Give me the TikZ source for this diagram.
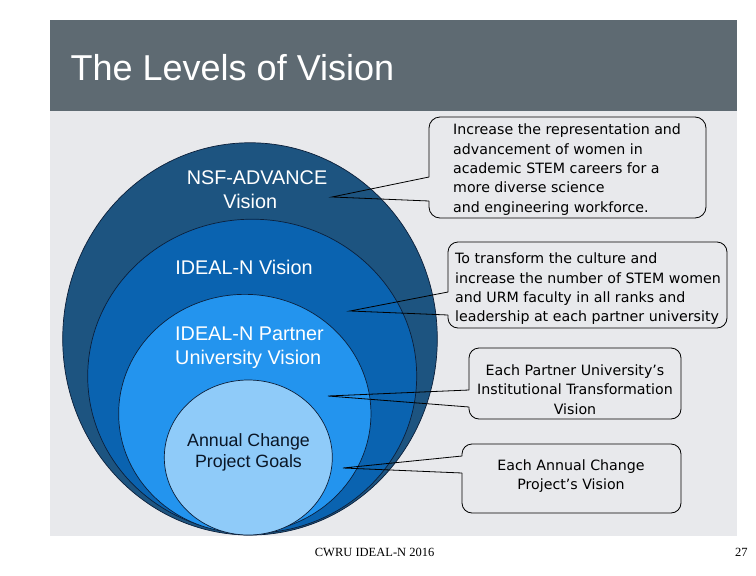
\documentclass[tikz,border=0pt]{standalone}
\usepackage{fontspec}
\setmainfont{Liberation Sans}
\newfontfamily\tahfont{DejaVu Sans}
\newfontfamily\serfont{Liberation Serif}
\usetikzlibrary{shapes.geometric}
\definecolor{barcol}{HTML}{5E6A72}
\definecolor{bgcol}{HTML}{E8E9EC}
\definecolor{ringA}{HTML}{1D5480}
\definecolor{ringB}{HTML}{0A63B0}
\definecolor{ringC}{HTML}{2394EE}
\definecolor{ringD}{HTML}{8FCBF9}
\definecolor{ringline}{HTML}{0B1F3A}
\definecolor{darktext}{HTML}{0A1626}
\begin{document}
\begin{tikzpicture}[x=1pt,y=-1pt,
  ring/.style={ellipse, draw=ringline, line width=0.7pt, inner sep=0pt, outer sep=0pt},
  ringlabel/.style={text=white, font=\fontsize{19.8}{24}\selectfont, inner sep=0pt},
  boxshape/.style={rectangle, inner sep=0pt, outer sep=0pt},
  coline/.style={draw=black, line width=0.8pt},
  cotext/.style={font=\tahfont\fontsize{14.2}{19.3}\selectfont, text=black, inner sep=0pt}]
\useasboundingbox (0,0) rectangle (756,576);
\fill[white] (0,0) rectangle (756,576);
% title bar and content area
\fill[barcol] (49.5,19.5) rectangle (736.7,111);
\fill[bgcol] (50,111) rectangle (736.7,536);
\node[anchor=base west, text=white, font=\fontsize{36}{43}\selectfont, inner sep=0pt] (title) at (70.5,80) {The Levels of Vision};

% nested circles
\node[ring, fill=ringA, minimum width=374.6pt, minimum height=392.3pt] (r1) at (250,338.9) {};
\node[ring, fill=ringB, minimum width=329pt, minimum height=314pt] (r2) at (252.2,376.2) {};
\node[ring, fill=ringC, minimum width=252.3pt, minimum height=238.7pt] (r3) at (244.8,413.7) {};
\node[ring, fill=ringD, minimum width=168pt, minimum height=155pt] (r4) at (248.3,457.5) {};

% circle labels
\node[ringlabel, align=left] (l1) at (257,190) {NSF-ADVANCE\\\hspace*{36.7pt}Vision};
\node[ringlabel] (l2) at (244,267) {IDEAL-N Vision};
\node[ringlabel, align=left] (l3) at (249.5,348) {IDEAL-N Partner\\University Vision};
\node[text=darktext, font=\fontsize{17.8}{21}\selectfont, align=center, inner sep=0pt] (l4) at (248.5,452.5) {Annual Change\\Project Goals};

% callout 1
\node[boxshape, minimum width=277pt, minimum height=101pt] (c1) at (567.5,167.5) {};
\coordinate (c1u) at (429,177);
\coordinate (c1l) at (429,201);
\coordinate (t1) at (332,197);
\draw[coline, rounded corners=11pt] (c1u) -- (c1.north west) -- (c1.north east) -- (c1.south east) -- (c1.south west) -- (c1l);
\draw[coline] (c1u) -- (t1) -- (c1l);
\node[cotext, align=left, anchor=west] (x1) at (453,169.5) {Increase the representation and\\advancement of women in\\academic STEM careers for a\\more diverse science\\and engineering workforce.};

% callout 2
\node[boxshape, minimum width=279pt, minimum height=86pt] (c2) at (587.5,285) {};
\coordinate (c2u) at (448,292);
\coordinate (c2l) at (448,315);
\coordinate (t2) at (350,311);
\draw[coline, rounded corners=10pt] (c2u) -- (c2.north west) -- (c2.north east) -- (c2.south east) -- (c2.south west) -- (c2l);
\draw[coline] (c2u) -- (t2) -- (c2l);
\node[cotext, align=left, anchor=west] (x2) at (455,289) {To transform the culture and\\increase the number of STEM women\\and URM faculty in all ranks and\\leadership at each partner university};

% callout 3
\node[boxshape, minimum width=212pt, minimum height=71pt] (c3) at (575,383.5) {};
\coordinate (c3u) at (469,390);
\coordinate (c3l) at (469,407);
\coordinate (t3) at (328,396);
\draw[coline, rounded corners=10pt] (c3u) -- (c3.north west) -- (c3.north east) -- (c3.south east) -- (c3.south west) -- (c3l);
\draw[coline] (c3u) -- (t3) -- (c3l);
\node[cotext, align=center] (x3) at (575,389.7) {Each Partner University’s\\Institutional Transformation\\Vision};

% callout 4
\node[boxshape, minimum width=219pt, minimum height=69pt] (c4) at (571.5,478.5) {};
\coordinate (c4u) at (462,456);
\coordinate (c4l) at (462,473);
\coordinate (t4) at (343,468);
\draw[coline, rounded corners=10pt] (c4u) -- (c4.north west) -- (c4.north east) -- (c4.south east) -- (c4.south west) -- (c4l);
\draw[coline] (c4u) -- (t4) -- (c4l);
\node[cotext, align=center] (x4) at (571,476.2) {Each Annual Change\\Project’s Vision};

% footer
\node[anchor=base west, font=\serfont\fontsize{12.5}{15}\selectfont, inner sep=0pt] (foot) at (314.7,556) {CWRU IDEAL-N 2016};
\node[anchor=base west, font=\serfont\fontsize{12.5}{15}\selectfont, inner sep=0pt] (page) at (735,556) {27};
\end{tikzpicture}
\end{document}
